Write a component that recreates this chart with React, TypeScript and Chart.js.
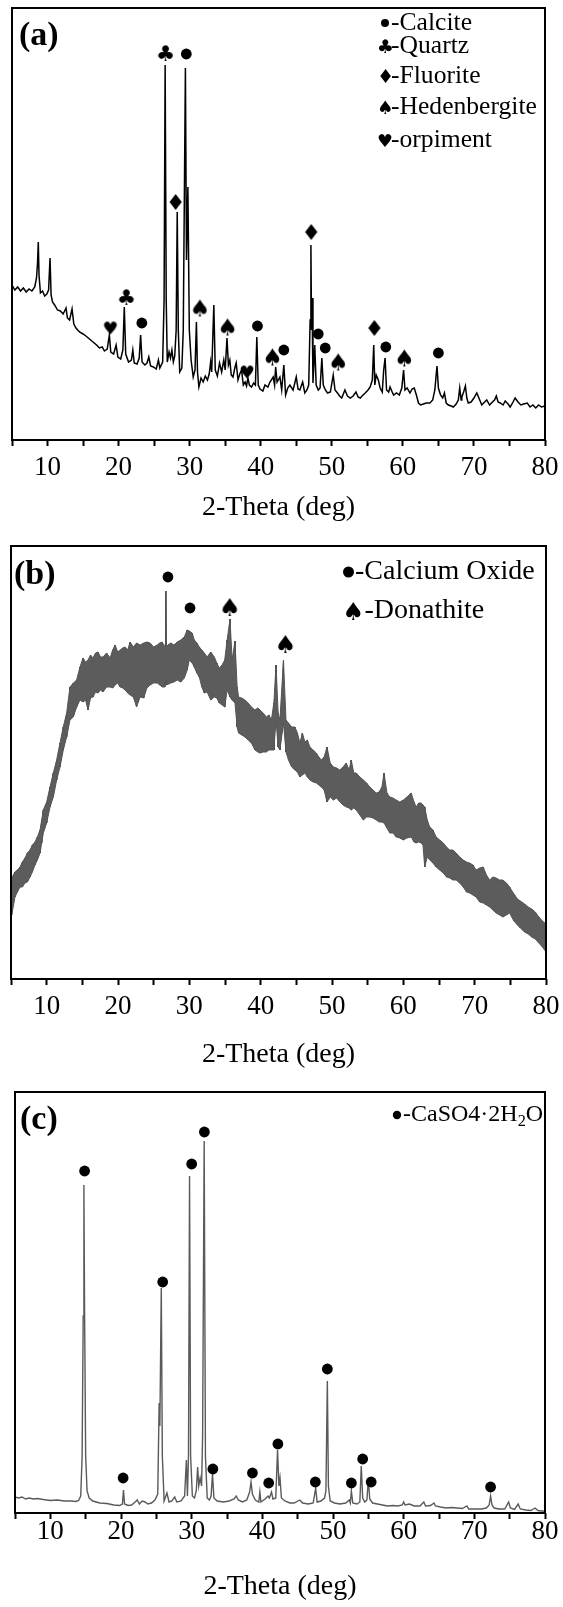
import React, { useEffect, useRef } from 'react';
import { Chart, registerables } from 'chart.js';

Chart.register(...registerables);

// ---------------- shared axis ----------------
const xTickValues = [5, 10, 15, 20, 25, 30, 35, 40, 45, 50, 55, 60, 65, 70, 75, 80];
const xAxisTitle = '2-Theta (deg)';

// ---------------- panel (a) ----------------
const thetaA = [
  5.0, 5.4, 5.8, 6.2, 6.6, 7.0, 7.4, 7.8, 8.2, 8.45,
  8.6, 8.7, 8.8, 9.0, 9.3, 9.6, 9.9, 10.15, 10.35, 10.5,
  10.7, 11.0, 11.4, 11.8, 12.2, 12.6, 12.8, 13.1, 13.45, 13.7,
  14.0, 14.5, 15.0, 15.4, 15.9, 16.4, 16.9, 17.3, 17.7, 18.0,
  18.4, 18.7, 18.9, 19.3, 19.65, 19.9, 20.3, 20.6, 20.8, 21.0,
  21.4, 21.8, 22.0, 22.2, 22.6, 22.9, 23.1, 23.3, 23.7, 24.0,
  24.25, 24.5, 24.9, 25.3, 25.6, 25.8, 26.2, 26.4, 26.55, 26.7,
  26.85, 27.1, 27.3, 27.5, 27.7, 27.9, 28.1, 28.25, 28.4, 28.6,
  28.9, 29.1, 29.4, 29.55, 29.75, 29.95, 30.2, 30.5, 30.75, 30.95,
  31.1, 31.3, 31.6, 31.9, 32.2, 32.5, 32.75, 32.95, 33.1, 33.4,
  33.6, 33.9, 34.2, 34.5, 34.8, 35.0, 35.25, 35.45, 35.65, 35.85,
  36.1, 36.35, 36.55, 36.8, 37.05, 37.3, 37.55, 37.8, 38.0, 38.2,
  38.4, 38.7, 39.0, 39.25, 39.45, 39.65, 39.9, 40.3, 40.6, 41.0,
  41.3, 41.75, 41.95, 42.1, 42.3, 42.7, 42.95, 43.25, 43.5, 43.8,
  44.1, 44.55, 45.0, 45.25, 45.5, 45.9, 46.2, 46.5, 46.75, 46.95,
  47.06, 47.15, 47.22, 47.35, 47.6, 47.8, 48.1, 48.35, 48.6, 48.8,
  49.1, 49.4, 49.8, 50.2, 50.45, 50.8, 51.1, 51.4, 51.85, 52.2,
  52.6, 53.0, 53.4, 53.7, 54.0, 54.4, 54.7, 55.1, 55.4, 55.7,
  55.9, 56.05, 56.25, 56.55, 56.8, 57.1, 57.3, 57.5, 57.7, 58.0,
  58.2, 58.5, 58.7, 59.1, 59.5, 59.85, 60.1, 60.3, 60.6, 61.0,
  61.3, 61.6, 61.9, 62.2, 62.5, 62.9, 63.3, 63.8, 64.2, 64.5,
  64.8, 65.0, 65.3, 65.6, 65.85, 66.1, 66.4, 66.8, 67.1, 67.5,
  67.8, 68.0, 68.2, 68.3, 68.55, 68.8, 69.0, 69.2, 69.6, 70.0,
  70.4, 70.7, 71.1, 71.5, 71.8, 72.2, 72.6, 72.9, 73.15, 73.4,
  73.7, 74.1, 74.4, 74.8, 75.1, 75.5, 75.8, 76.2, 76.6, 77.0,
  77.5, 77.9, 78.3, 78.7, 79.1, 79.5, 80.0,
];
const intensityA = [
  155, 150, 153, 149, 152, 148, 151, 149, 153, 162,
  178, 198, 165, 147, 149, 144, 146, 150, 182, 145,
  138, 135, 130, 129, 126, 132, 122, 120, 131, 116,
  112, 108, 106, 104, 101, 98, 95, 92, 93, 89,
  91, 105, 88, 86, 95, 83, 81, 90, 133, 86,
  78, 80, 90, 77, 76, 82, 105, 78, 75, 77,
  83, 74, 73, 71, 80, 72, 78, 140, 375, 140,
  78, 88, 82, 90, 78, 84, 110, 228, 110, 68,
  72, 110, 372, 180, 253, 110, 80, 63, 70, 118,
  68, 53, 62, 58, 64, 60, 66, 78, 68, 135,
  70, 64, 77, 68, 80, 70, 102, 75, 80, 65,
  63, 72, 77, 60, 66, 70, 55, 58, 54, 62,
  55, 53, 57, 55, 103, 55, 51, 49, 55, 53,
  58, 63, 55, 73, 58, 63, 50, 75, 45, 52,
  55, 50, 63, 51, 50, 58, 47, 50, 55, 120,
  195, 110, 142, 57, 95, 55, 50, 52, 82, 55,
  50, 47, 48, 65, 50, 47, 44, 42, 50, 44,
  42, 44, 48, 43, 42, 45, 47, 50, 53, 60,
  95, 55, 65, 60, 52, 48, 70, 82, 50, 48,
  53, 48, 45, 47, 45, 52, 70, 50, 52, 47,
  51, 52, 45, 37, 35, 36, 37, 37, 40, 50,
  74, 52, 45, 42, 47, 37, 35, 34, 33, 36,
  40, 52, 40, 43, 48, 54, 42, 37, 38, 42,
  47, 42, 35, 38, 40, 35, 38, 40, 44, 38,
  37, 35, 39, 36, 33, 38, 42, 38, 35, 36,
  37, 33, 35, 32, 35, 33, 34,
];
const markThetaA = [26.57, 29.53, 27.98, 21.06, 18.85, 23.27, 31.45, 35.35, 38.07, 39.54, 41.66, 43.25, 47.06, 48.09, 49.08, 50.91, 55.94, 57.6, 60.22, 65.0];
const markIntA = [387, 386, 238, 143, 112, 117, 132, 113, 68, 114, 83, 90, 208, 106, 92, 78, 112, 93, 82, 87];
const markSymA = ['club', 'circle', 'diamond', 'club', 'heart', 'circle', 'spade', 'spade', 'heart', 'circle', 'spade', 'circle', 'diamond', 'circle', 'circle', 'spade', 'diamond', 'circle', 'spade', 'circle'];
const legendSymA = ['circle', 'club', 'diamond', 'spade', 'heart'];
const legendNameA = ['-Calcite', '-Quartz', '-Fluorite', '-Hedenbergite', '-orpiment'];
const tagA = '(a)';

// ---------------- panel (b) ----------------
const thetaB = [
  5.0, 5.1, 5.56, 5.9, 6.26, 6.6, 6.96, 7.3, 7.66, 8.0,
  8.36, 8.7, 9.07, 9.3, 9.53, 10.0, 10.47, 10.93, 11.4, 11.87,
  12.33, 12.8, 13.27, 13.74, 14.2, 14.67, 15.1, 15.45, 15.8, 16.15,
  16.5, 16.85, 17.2, 17.55, 17.9, 18.4, 18.9, 19.25, 19.6, 19.95,
  20.3, 20.65, 21.0, 21.35, 21.7, 22.15, 22.6, 23.1, 23.6, 24.05,
  24.5, 25.0, 25.5, 25.85, 26.2, 26.55, 26.65, 26.72, 26.8, 27.4,
  27.85, 28.3, 28.8, 29.3, 29.7, 30.0, 30.4, 30.7, 31.05, 31.4,
  31.75, 32.1, 32.5, 33.0, 33.5, 33.85, 34.2, 34.6, 34.96, 35.3,
  35.7, 36.0, 36.4, 36.7, 36.9, 37.35, 37.8, 38.25, 38.7, 39.2,
  39.6, 39.9, 40.35, 40.8, 41.15, 41.5, 41.85, 42.15, 42.45, 42.7,
  43.2, 43.55, 43.9, 44.35, 44.8, 45.15, 45.5, 45.85, 46.2, 46.55,
  46.9, 47.35, 47.8, 48.15, 48.5, 48.9, 49.3, 49.75, 50.2, 50.65,
  51.1, 51.55, 52.0, 52.4, 52.7, 53.05, 53.4, 53.9, 54.4, 54.85,
  55.3, 55.75, 56.2, 56.6, 57.0, 57.3, 57.7, 58.1, 58.55, 59.0,
  59.5, 60.0, 60.5, 61.1, 61.5, 61.8, 62.15, 62.5, 62.75, 63.0,
  63.35, 63.7, 64.15, 64.6, 65.1, 65.6, 66.05, 66.5, 66.95, 67.4,
  67.9, 68.4, 68.85, 69.3, 69.75, 70.2, 70.7, 71.2, 71.65, 72.1,
  72.55, 73.0, 73.5, 73.95, 74.45, 74.9, 75.5, 76.0, 76.4, 77.0,
  77.5, 78.0, 78.5, 79.0, 79.5, 80.0,
];
const upperB = [
  96, 101, 107, 109, 112, 117, 121, 126, 129, 134,
  137, 142, 149, 159, 169, 177, 192, 206, 219, 236,
  252, 266, 292, 296, 299, 312, 321, 317, 319, 324,
  321, 326, 327, 322, 322, 326, 321, 329, 334, 327,
  329, 331, 332, 329, 337, 332, 336, 334, 336, 337,
  336, 332, 334, 336, 337, 332, 335, 388, 333, 336,
  334, 337, 339, 342, 349, 348, 346, 339, 336, 332,
  329, 326, 322, 327, 322, 316, 311, 314, 319, 339,
  360, 319, 338, 292, 282, 281, 279, 276, 272, 269,
  271, 269, 266, 262, 264, 259, 276, 314, 266, 259,
  319, 259, 256, 252, 252, 246, 236, 246, 237, 239,
  232, 229, 226, 222, 219, 222, 232, 216, 212, 211,
  209, 212, 216, 209, 219, 206, 206, 202, 199, 196,
  192, 189, 186, 187, 192, 206, 186, 182, 181, 179,
  177, 179, 182, 186, 177, 172, 176, 176, 174, 172,
  159, 152, 149, 142, 139, 136, 132, 129, 129, 126,
  122, 119, 117, 116, 114, 109, 111, 112, 104, 99,
  102, 101, 99, 99, 96, 92, 85, 80, 78, 75,
  72, 70, 67, 62, 58, 55,
];
const lowerB = [
  72, 64, 82, 87, 92, 92, 96, 97, 102, 107,
  114, 119, 126, 136, 146, 156, 172, 182, 199, 212,
  229, 242, 259, 262, 272, 279, 277, 279, 269, 281,
  282, 287, 286, 289, 287, 292, 292, 291, 294, 296,
  292, 291, 289, 286, 284, 282, 272, 282, 281, 291,
  294, 296, 296, 294, 292, 292, 294, 300, 294, 296,
  297, 299, 297, 301, 309, 319, 316, 312, 306, 302,
  292, 286, 287, 279, 282, 281, 276, 274, 272, 289,
  282, 279, 276, 252, 246, 244, 242, 239, 236, 229,
  227, 226, 227, 227, 229, 229, 229, 259, 232, 229,
  256, 227, 219, 212, 209, 207, 202, 204, 206, 202,
  199, 197, 196, 194, 192, 189, 177, 182, 179, 181,
  177, 174, 172, 171, 169, 171, 169, 164, 159, 162,
  162, 161, 159, 157, 157, 156, 151, 146, 146, 142,
  141, 139, 141, 142, 137, 136, 137, 136, 134, 112,
  122, 119, 116, 112, 109, 106, 102, 101, 99, 99,
  96, 92, 87, 86, 84, 82, 77, 76, 74, 72,
  69, 66, 64, 62, 64, 66, 58, 54, 51, 47,
  45, 42, 40, 36, 32, 27,
];
const markThetaB = [27.0, 30.1, 35.7, 43.5];
const markIntB = [402, 371, 372, 335];
const markSymB = ['circle', 'circle', 'spade', 'spade'];
const legendSymB = ['circle', 'spade'];
const legendNameB = ['-Calcium Oxide', '-Donathite'];
const tagB = '(b)';

// ---------------- panel (c) ----------------
const thetaC = [
  5.0, 5.5, 6.0, 6.5, 7.0, 7.6, 8.2, 9.0, 10.0, 11.0,
  12.0, 13.0, 13.6, 14.0, 14.3, 14.5, 14.65, 14.75, 14.85, 15.0,
  15.2, 15.5, 16.0, 17.0, 18.0, 19.0, 19.8, 20.2, 20.35, 20.5,
  21.0, 21.5, 22.0, 22.3, 22.6, 23.0, 23.4, 23.8, 24.3, 24.8,
  25.2, 25.4, 25.5, 25.7, 25.85, 26.1, 26.5, 26.8, 27.2, 27.6,
  27.9, 28.5, 29.0, 29.25, 29.4, 29.55, 29.7, 29.85, 30.1, 30.4,
  30.65, 30.85, 31.0, 31.2, 31.4, 31.55, 31.77, 31.95, 32.2, 32.5,
  32.75, 32.95, 33.15, 33.6, 34.5, 35.3, 36.0, 36.3, 36.6, 37.2,
  37.8, 38.2, 38.4, 38.6, 39.0, 39.5, 39.65, 39.8, 40.4, 40.8,
  41.0, 41.3, 41.5, 41.9, 42.15, 42.35, 42.5, 42.7, 43.2, 43.9,
  44.5, 45.3, 45.7, 46.5, 47.2, 47.55, 47.75, 48.3, 48.8, 49.0,
  49.2, 49.35, 49.6, 50.2, 51.0, 51.8, 52.3, 52.45, 52.6, 52.8,
  53.4, 53.8, 54.0, 54.2, 54.5, 54.8, 55.0, 55.2, 55.6, 56.3,
  57.0, 57.7, 58.5, 59.2, 59.8, 60.0, 60.2, 60.8, 61.5, 62.3,
  62.85, 63.1, 63.8, 64.3, 64.5, 65.2, 66.0, 66.8, 67.5, 68.3,
  68.95, 69.2, 70.0, 71.0, 71.7, 72.1, 72.3, 72.5, 72.8, 73.5,
  74.3, 74.85, 75.1, 75.7, 76.2, 76.5, 77.3, 78.0, 78.6, 79.0,
  79.5, 80.0,
];
const intensityC = [
  19, 18, 19, 17, 18, 17, 17.5, 16.5, 15.5, 16,
  15, 15, 14.5, 15.5, 20, 60, 200, 331, 200, 60,
  25, 18, 15, 13, 12.5, 11, 10.5, 12, 26, 12,
  10.5, 11, 14, 16, 12, 15, 14, 12, 13, 16,
  22, 113, 90, 228, 60, 15, 23, 14, 15, 19,
  14, 15, 20, 56, 20, 60, 340, 60, 20, 18,
  25, 49, 30, 38, 30, 80, 375, 60, 18, 16,
  20, 42, 18, 15, 14, 15, 17, 20, 16, 14,
  16, 24, 34, 22, 16, 14, 24, 14, 17, 20,
  18, 24, 17, 18, 66, 30, 38, 18, 15, 13,
  13, 16, 13, 12, 13, 28, 14, 15, 18, 25,
  135, 30, 15, 13, 12, 13, 16, 13, 25, 13,
  12, 14, 50, 18, 14, 16, 37, 17, 13, 12,
  11, 10, 10.5, 10, 11, 14, 11, 12, 10, 10,
  14, 10, 10.5, 13, 10, 9, 8, 8.5, 8, 7.5,
  10, 7, 7, 7, 8, 11, 20, 11, 8, 7,
  7, 14, 8, 6.5, 12, 7, 6, 5.5, 8, 5.5,
  5, 5,
];
const markThetaC = [14.85, 20.3, 25.9, 30.0, 31.8, 33.0, 38.6, 40.9, 42.2, 47.5, 49.2, 52.6, 54.2, 55.4, 72.3];
const markIntC = [345, 38, 234, 352, 384, 47, 43, 33, 72, 34, 147, 33, 57, 34, 29];
const legendSymC = ['circle'];
const legendNameC = [[{ t: '-CaSO4·2H' }, { t: '2', sub: true }, { t: 'O' }]];
const tagC = '(c)';

// ---------------- layout / style (not data) ----------------
const SERIF = '"Liberation Serif", "Times New Roman", serif';
const GLYPH = { club: '\u2663', spade: '\u2660', heart: '\u2665', diamond: '\u2666' };

type Seg = { t: string; sub?: boolean };
type LegendItem = { sym: string; size: number; sx: number; tx: number; y: number; segs: Seg[] };
type PanelSpec = {
  top: number; height: number; padL: number; padR: number; padT: number; axisH: number;
  yMin: number; yMax: number;
  tickLH: number; titlePad: number; tickFont: number; titleFont: number;
  datasets: () => any[];
  tag: string; tagX: number; tagY: number; tagFont: number;
  legendFont: number; legend: LegendItem[];
};

const glyphCache: Record<string, HTMLCanvasElement> = {};
function glyph(sym: string, inkH: number): HTMLCanvasElement {
  const key = sym + ':' + inkH;
  if (glyphCache[key]) return glyphCache[key];
  const ch = (GLYPH as any)[sym];
  const m = document.createElement('canvas').getContext('2d')!;
  m.font = '100px "DejaVu Sans"';
  const mt = m.measureText(ch);
  const h0 = mt.actualBoundingBoxAscent + mt.actualBoundingBoxDescent;
  const fs = (100 * inkH) / h0;
  m.font = `${fs}px "DejaVu Sans"`;
  const t = m.measureText(ch);
  const w = t.actualBoundingBoxLeft + t.actualBoundingBoxRight;
  const h = t.actualBoundingBoxAscent + t.actualBoundingBoxDescent;
  const c = document.createElement('canvas');
  c.width = Math.ceil(w) + 2;
  c.height = Math.ceil(h) + 2;
  const g = c.getContext('2d')!;
  g.font = m.font;
  g.fillStyle = '#000';
  g.fillText(ch, 1 + t.actualBoundingBoxLeft, 1 + t.actualBoundingBoxAscent);
  glyphCache[key] = c;
  return c;
}

const markerSize: Record<string, number> = { club: 16, spade: 17, heart: 13, diamond: 16 };

function markerDataset(thetas: number[], ints: number[], syms: string[], sizes: Record<string, number>) {
  return {
    type: 'scatter',
    data: thetas.map((x, i) => ({ x, y: ints[i] })),
    showLine: false,
    pointRadius: 5.4,
    pointHoverRadius: 5.4,
    pointBorderWidth: 0,
    pointBackgroundColor: '#000',
    pointBorderColor: '#000',
    pointStyle: (ctx: any) => {
      const s = syms[ctx.dataIndex];
      return s === 'circle' ? 'circle' : glyph(s, sizes[s]);
    },
  };
}

const framePlugin = {
  id: 'frame',
  afterDraw(chart: any) {
    const { ctx, chartArea } = chart;
    const { left, top, right, bottom } = chartArea;
    ctx.save();
    ctx.strokeStyle = '#000';
    ctx.lineWidth = 2;
    ctx.strokeRect(left, top, right - left, bottom - top);
    ctx.restore();
  },
};

function annotPlugin(spec: PanelSpec) {
  return {
    id: 'annot',
    afterDraw(chart: any) {
      const ctx = chart.ctx;
      ctx.save();
      ctx.fillStyle = '#000';
      ctx.textBaseline = 'middle';
      ctx.textAlign = 'left';
      ctx.font = `bold ${spec.tagFont}px ${SERIF}`;
      ctx.fillText(spec.tag, spec.tagX, spec.tagY);
      for (const e of spec.legend) {
        if (e.sym === 'circle') {
          ctx.beginPath();
          ctx.arc(e.sx, e.y, e.size, 0, Math.PI * 2);
          ctx.fill();
        } else {
          const g = glyph(e.sym, e.size);
          ctx.drawImage(g, Math.round(e.sx - g.width / 2), Math.round(e.y - g.height / 2));
        }
        let x = e.tx;
        for (const seg of e.segs) {
          const fsz = seg.sub ? spec.legendFont * 0.68 : spec.legendFont;
          ctx.font = `${fsz}px ${SERIF}`;
          ctx.fillText(seg.t, x, e.y + (seg.sub ? spec.legendFont * 0.3 : 0));
          x += ctx.measureText(seg.t).width;
        }
      }
      ctx.restore();
    },
  };
}

function buildConfig(spec: PanelSpec): any {
  return {
    type: 'line',
    data: { datasets: spec.datasets() },
    options: {
      responsive: false,
      animation: false,
      events: [],
      layout: { padding: { left: spec.padL, right: spec.padR, top: spec.padT, bottom: 0 } },
      plugins: { legend: { display: false }, tooltip: { enabled: false }, title: { display: false } },
      scales: {
        x: {
          type: 'linear',
          min: 5,
          max: 80,
          afterFit: (s: any) => { s.height = spec.axisH; },
          afterBuildTicks: (s: any) => { s.ticks = xTickValues.map((v) => ({ value: v })); },
          ticks: {
            autoSkip: false,
            maxRotation: 0,
            minRotation: 0,
            padding: 0,
            color: '#000',
            font: { family: SERIF, size: spec.tickFont, lineHeight: spec.tickLH },
            callback: (v: number) => (v % 10 === 0 ? String(v) : ''),
          },
          grid: { display: true, drawOnChartArea: false, drawTicks: true, tickLength: 6, tickWidth: 2, tickColor: '#000' },
          border: { display: false },
          title: {
            display: true,
            text: xAxisTitle,
            color: '#000',
            font: { family: SERIF, size: spec.titleFont },
            padding: { top: 0, bottom: spec.titlePad },
          },
        },
        y: { type: 'linear', display: false, min: spec.yMin, max: spec.yMax },
      },
    },
    plugins: [framePlugin, annotPlugin(spec)],
  };
}

const legendNamesToSegs = (n: string) => [{ t: n }];

const panelA: PanelSpec = {
  top: 0, height: 525, padL: 12, padR: 18, padT: 8, axisH: 85, yMin: 0, yMax: 432,
  tickLH: 1.644, titlePad: 1, tickFont: 27, titleFont: 28,
  datasets: () => [
    markerDataset(markThetaA, markIntA, markSymA, markerSize),
    {
      data: thetaA.map((x, i) => ({ x, y: intensityA[i] })),
      borderColor: '#000', borderWidth: 1.5, pointRadius: 0, fill: false, tension: 0,
    },
  ],
  tag: tagA, tagX: 19, tagY: 36, tagFont: 34, legendFont: 25.6,
  legend: legendSymA.map((s, i) => ({
    sym: s,
    size: ({ circle: 4, club: 14, diamond: 14, spade: 13.5, heart: 13 } as any)[s],
    sx: 385, tx: 391, y: [23, 46, 76, 107, 140][i], segs: legendNamesToSegs(legendNameA[i]),
  })),
};

const panelB: PanelSpec = {
  top: 520, height: 555, padL: 11, padR: 17, padT: 26, axisH: 96, yMin: 0, yMax: 433,
  tickLH: 1.644, titlePad: 4, tickFont: 27, titleFont: 28,
  datasets: () => [
    markerDataset(markThetaB, markIntB, markSymB, { ...markerSize, spade: 18 }),
    {
      data: thetaB.map((x, i) => ({ x, y: lowerB[i] })),
      borderColor: '#555555', borderWidth: 1, pointRadius: 0, fill: false, tension: 0,
    },
    {
      data: thetaB.map((x, i) => ({ x, y: upperB[i] })),
      borderColor: '#555555', borderWidth: 1, pointRadius: 0, tension: 0,
      fill: '-1', backgroundColor: '#5c5c5c',
    },
    {
      data: thetaB.flatMap((x, i) => [{ x, y: upperB[i] }, { x, y: lowerB[i] }]),
      borderColor: '#3a3a3a', borderWidth: 1, pointRadius: 0, fill: false, tension: 0,
    },
  ],
  tag: tagB, tagX: 14, tagY: 55, tagFont: 34, legendFont: 28,
  legend: legendSymB.map((s, i) => ({
    sym: s,
    size: s === 'circle' ? 5.5 : 18,
    sx: [348.5, 353][i], tx: [355, 364.5][i], y: [52, 91][i], segs: legendNamesToSegs(legendNameB[i]),
  })),
};

const panelC: PanelSpec = {
  top: 1075, height: 532, padL: 15, padR: 18, padT: 17, axisH: 94, yMin: 3, yMax: 424,
  tickLH: 0.978, titlePad: 4, tickFont: 27, titleFont: 28,
  datasets: () => [
    markerDataset(markThetaC, markIntC, markThetaC.map(() => 'circle'), markerSize),
    {
      data: thetaC.map((x, i) => ({ x, y: intensityC[i] })),
      borderColor: '#5a5a5a', borderWidth: 1.4, pointRadius: 0, fill: false, tension: 0,
    },
  ],
  tag: tagC, tagX: 20, tagY: 45, tagFont: 34, legendFont: 24,
  legend: legendSymC.map((s, i) => ({
    sym: s, size: 4.2, sx: 397, tx: 403, y: 40, segs: legendNameC[i],
  })),
};

function ChartPanel({ spec }: { spec: PanelSpec }) {
  const ref = useRef<HTMLCanvasElement>(null);
  useEffect(() => {
    const chart = new Chart(ref.current as HTMLCanvasElement, buildConfig(spec));
    return () => chart.destroy();
  }, [spec]);
  return (
    <canvas
      ref={ref}
      width={563}
      height={spec.height}
      style={{ position: 'absolute', left: 0, top: spec.top, width: 563, height: spec.height, display: 'block' }}
    />
  );
}

export default function App() {
  return (
    <div style={{ position: 'absolute', left: 0, top: 0, width: 563, height: 1607, background: '#fff' }}>
      <ChartPanel spec={panelA} />
      <ChartPanel spec={panelB} />
      <ChartPanel spec={panelC} />
    </div>
  );
}
